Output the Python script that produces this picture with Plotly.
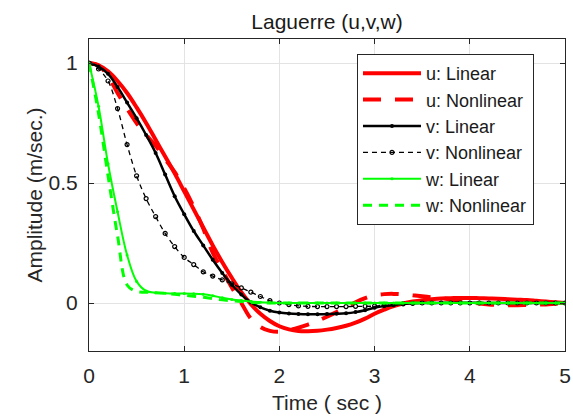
import plotly.graph_objects as go

# time axis (s)
t = [round(0.1 * i, 1) for i in range(51)]

u_linear = [1.0, 0.99, 0.965, 0.925, 0.875, 0.815, 0.75, 0.68, 0.61, 0.54,
            0.465, 0.39, 0.315, 0.24, 0.17, 0.105, 0.045, -0.005, -0.045, -0.075,
            -0.097, -0.11, -0.117, -0.118, -0.116, -0.111, -0.104, -0.095, -0.082, -0.065,
            -0.045, -0.028, -0.013, -0.002, 0.006, 0.012, 0.016, 0.019, 0.02, 0.021,
            0.021, 0.02, 0.019, 0.018, 0.016, 0.014, 0.012, 0.009, 0.006, 0.003, 0.0]

u_nonlinear = [1.0, 0.99, 0.945, 0.875, 0.81, 0.75, 0.70, 0.655, 0.60, 0.545,
               0.478, 0.40, 0.31, 0.21, 0.135, 0.065, 0.0, -0.065, -0.10, -0.116,
               -0.12, -0.113, -0.103, -0.09, -0.075, -0.057, -0.038, -0.018, 0.003, 0.02,
               0.032, 0.037, 0.038, 0.036, 0.032, 0.028, 0.024, 0.02, 0.015, 0.01,
               0.004, -0.002, -0.006, -0.008, -0.009, -0.009, -0.008, -0.007, -0.006, -0.003, 0.0]

v_linear = [1.0, 0.985, 0.955, 0.90, 0.835, 0.77, 0.70, 0.625, 0.535, 0.445,
            0.37, 0.30, 0.24, 0.18, 0.125, 0.076, 0.035, 0.003, -0.018, -0.032,
            -0.04, -0.044, -0.046, -0.047, -0.047, -0.046, -0.045, -0.043, -0.038, -0.03,
            -0.02, -0.013, -0.008, -0.004, -0.002, 0.0, 0.0, 0.001, 0.001, 0.001,
            0.001, 0.001, 0.0, 0.0, 0.0, 0.0, 0.0, 0.0, 0.0, 0.0, 0.0]

v_nonlinear = [1.0, 0.975, 0.925, 0.81, 0.66, 0.53, 0.435, 0.36, 0.29, 0.235,
               0.19, 0.16, 0.13, 0.112, 0.096, 0.08, 0.063, 0.045, 0.027, 0.01,
               0.0, -0.007, -0.012, -0.014, -0.015, -0.015, -0.015, -0.015, -0.014, -0.014,
               -0.013, -0.01, -0.007, -0.004, -0.002, 0.0, 0.0, 0.0, 0.0, 0.0,
               0.0, 0.0, 0.0, 0.0, 0.0, 0.0, 0.0, 0.0, 0.0, 0.0, 0.0]

w_linear = [1.0, 0.82, 0.58, 0.38, 0.20, 0.09, 0.05, 0.043, 0.041, 0.04,
            0.04, 0.039, 0.036, 0.03, 0.022, 0.015, 0.01, 0.006, 0.003, 0.001,
            0.0, 0.0, 0.0, 0.0, 0.0, 0.0, 0.0, 0.0, 0.0, 0.0,
            0.0, 0.0, 0.0, 0.0, 0.0, 0.0, 0.0, 0.0, 0.0, 0.0,
            0.0, 0.0, 0.0, 0.0, 0.0, 0.0, 0.0, 0.0, 0.0, 0.0, 0.0]

w_nonlinear = [1.0, 0.79, 0.53, 0.28, 0.075, 0.048, 0.045, 0.043, 0.04, 0.036,
               0.032, 0.028, 0.024, 0.018, 0.013, 0.009, 0.006, 0.003, 0.001, 0.0,
               0.0, 0.0, 0.0, 0.0, 0.0, 0.0, 0.0, 0.0, 0.0, 0.0,
               0.0, 0.0, 0.0, 0.0, 0.0, 0.0, 0.0, 0.0, 0.0, 0.0,
               0.0, 0.0, 0.0, 0.0, 0.0, 0.0, 0.0, 0.0, 0.0, 0.0, 0.0]

x_ticks = [0, 1, 2, 3, 4, 5]
y_ticks = [0, 0.5, 1]
y_tick_labels = ["0", "0.5", "1"]

FONT = "Liberation Sans, Arial, sans-serif"

fig = go.Figure()
fig.add_trace(go.Scatter(x=t, y=u_linear, name="u: Linear", mode="lines",
                         line=dict(color="#ff0000", width=4, shape="spline")))
fig.add_trace(go.Scatter(x=t, y=u_nonlinear, name="u: Nonlinear", mode="lines",
                         line=dict(color="#ff0000", width=4, dash="18px,14px", shape="spline")))
fig.add_trace(go.Scatter(x=t, y=v_linear, name="v: Linear", mode="lines+markers",
                         line=dict(color="#000000", width=2.5, shape="spline"),
                         marker=dict(symbol="circle", size=4, color="#000000")))
fig.add_trace(go.Scatter(x=t, y=v_nonlinear, name="v: Nonlinear", mode="lines+markers",
                         line=dict(color="#000000", width=1.3, dash="5px,4px", shape="spline"),
                         marker=dict(symbol="circle-open", size=4, color="#000000",
                                     line=dict(width=1.2, color="#000000"))))
fig.add_trace(go.Scatter(x=t, y=w_linear, name="w: Linear", mode="lines+markers",
                         line=dict(color="#00ff00", width=2, shape="spline"),
                         marker=dict(symbol="circle", size=3, color="#00ff00")))
fig.add_trace(go.Scatter(x=t, y=w_nonlinear, name="w: Nonlinear", mode="lines",
                         line=dict(color="#00ff00", width=3, dash="9px,7px", shape="spline")))

axis_common = dict(
    showline=True, linecolor="#262626", linewidth=1, mirror="ticks",
    ticks="inside", ticklen=5, tickcolor="#262626",
    showgrid=True, gridcolor="#e3e3e3", gridwidth=1,
    zeroline=False, automargin=False,
    tickfont=dict(family=FONT, size=21, color="#262626"),
)

fig.update_xaxes(range=[0, 5], tickvals=x_ticks, ticktext=[str(v) for v in x_ticks],
                 ticklabelstandoff=6,
                 title=dict(text="Time ( sec )", font=dict(family=FONT, size=21, color="#262626"),
                            standoff=9),
                 **axis_common)
fig.update_yaxes(range=[-0.2, 1.1], tickvals=y_ticks, ticktext=y_tick_labels,
                 ticklabelstandoff=6,
                 title=dict(text="Amplitude (m/sec.)", font=dict(family=FONT, size=21, color="#262626"),
                            standoff=0),
                 **axis_common)

fig.update_layout(
    width=573, height=419, autosize=False,
    margin=dict(l=89, r=8, t=39, b=68),
    plot_bgcolor="white", paper_bgcolor="white",
    font=dict(family=FONT, color="#262626"),
    title=dict(text="Laguerre (u,v,w)", x=0.5, xanchor="center", xref="paper",
               y=1 - 22 / 419, yanchor="middle", yref="container",
               font=dict(family=FONT, size=21, color="#1a1a1a")),
    legend=dict(x=0.563, y=0.952, xanchor="left", yanchor="top",
                bgcolor="white", bordercolor="#262626", borderwidth=1,
                itemwidth=58,
                font=dict(family=FONT, size=18, color="#1a1a1a")),
)

fig.write_html("out.html", config={"displayModeBar": False},
               post_script="document.body.style.margin='0';document.body.style.overflow='hidden';")
